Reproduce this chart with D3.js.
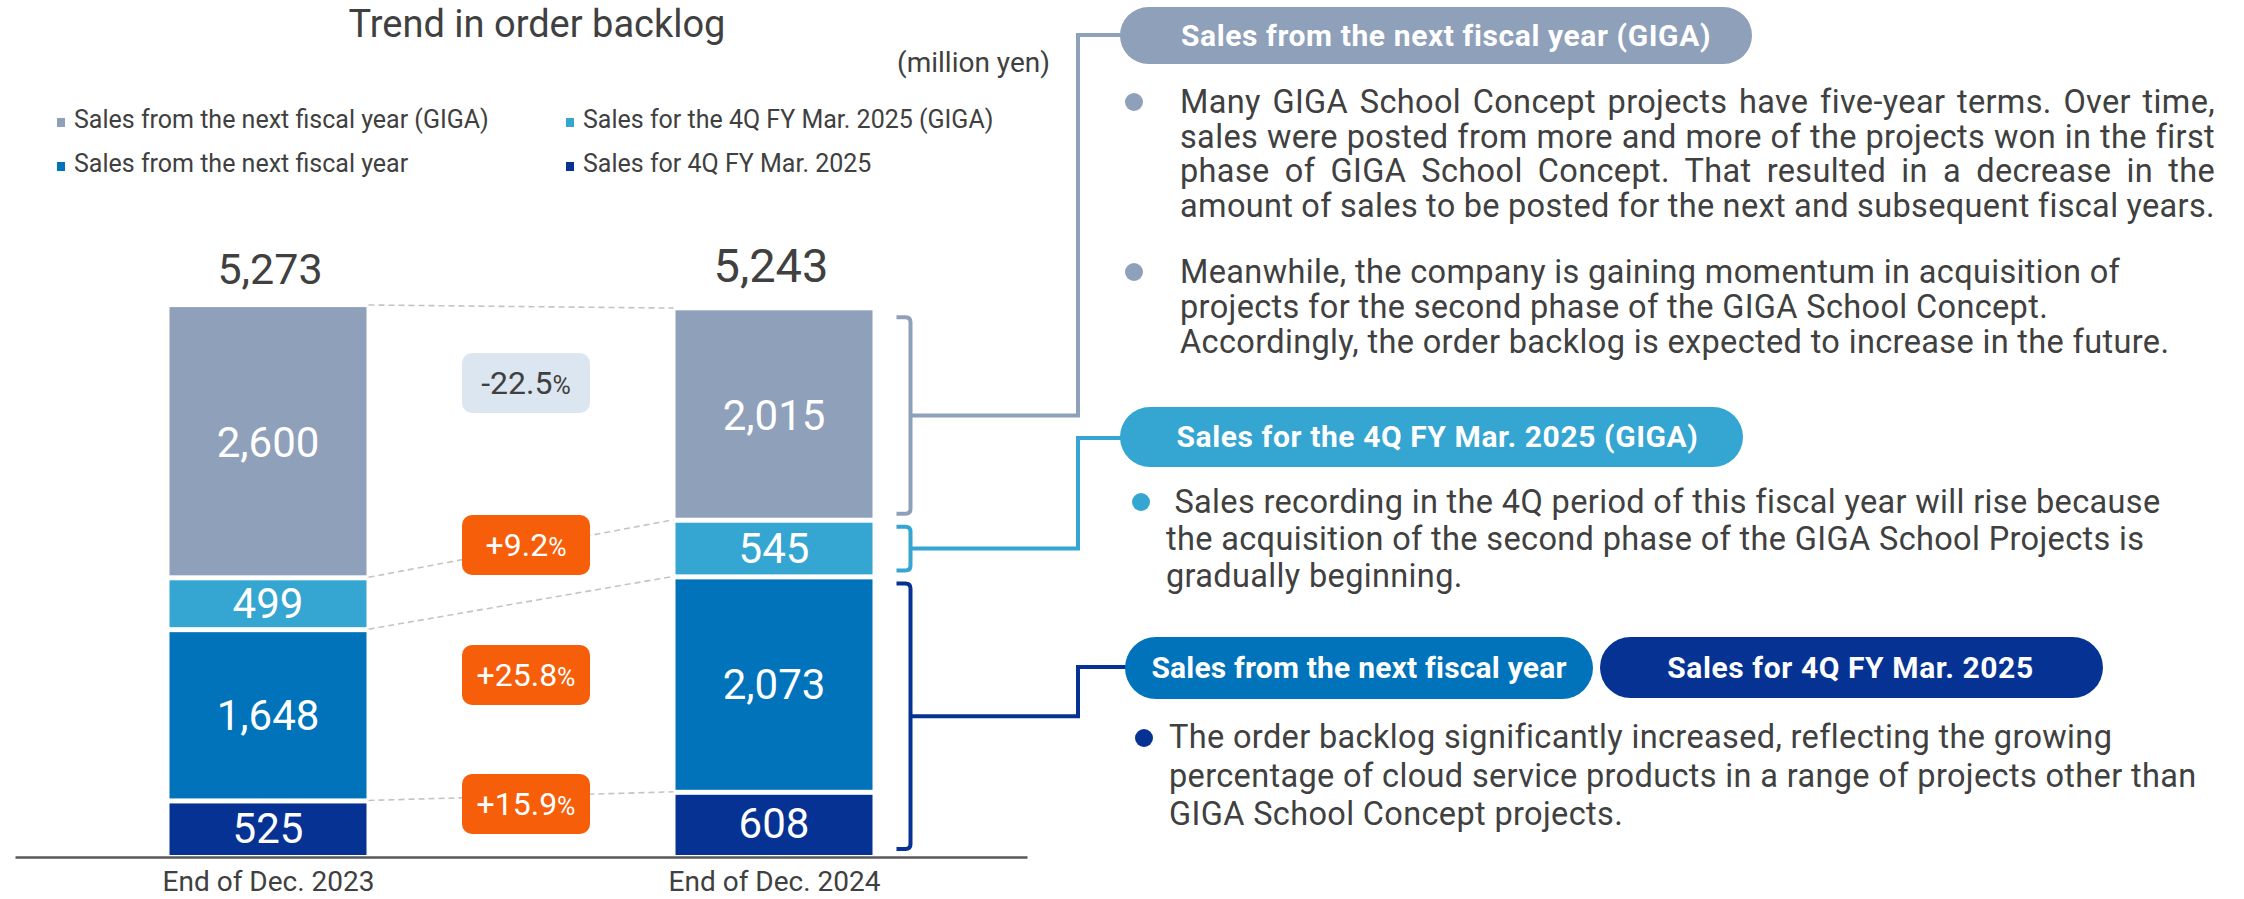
<!DOCTYPE html>
<html>
<head>
<meta charset="utf-8">
<script src="https://cdn.jsdelivr.net/npm/d3@7"></script>
<style>
  body { margin: 0; background: #fff; }
  svg { display: block; font-family: Roboto, "Noto Sans", sans-serif; }
</style>
</head>
<body>
<svg id="chart"></svg>
<script>
// data
var categories = ['End of Dec. 2023', 'End of Dec. 2024'];
var salesFor4Q = [525, 608];
var salesNextFY = [1648, 2073];
var salesFor4QGiga = [499, 545];
var salesNextFYGiga = [2600, 2015];
var totals = [5273, 5243];
var changes = ['-22.5', '+9.2', '+25.8', '+15.9'];

var seriesKeys = ['for4Q', 'nextFY', 'for4QGiga', 'nextFYGiga'];
var seriesNames = {
    nextFYGiga: 'Sales from the next fiscal year (GIGA)',
    for4QGiga: 'Sales for the 4Q FY Mar. 2025 (GIGA)',
    nextFY: 'Sales from the next fiscal year',
    for4Q: 'Sales for 4Q FY Mar. 2025'
};
var colors = {
    nextFYGiga: '#8fa0ba',
    for4QGiga: '#35a5d2',
    nextFY: '#0073bb',
    for4Q: '#063393'
};
var textColor = '#404040';

var sWidth = 2244;
var sHeight = 899;

var svg = d3.select('#chart')
    .attr('width', sWidth)
    .attr('height', sHeight);

var rows = categories.map(function(c, i) {
    return {
        cat: c,
        for4Q: salesFor4Q[i],
        nextFY: salesNextFY[i],
        for4QGiga: salesFor4QGiga[i],
        nextFYGiga: salesNextFYGiga[i],
        total: totals[i]
    };
});

var stacked = d3.stack().keys(seriesKeys)(rows);

var xScale = d3.scalePoint()
    .domain(categories)
    .range([15, 1027])
    .padding(0.5);
var barW = 197;

var yScale = d3.scaleLinear()
    .domain([0, d3.max(totals)])
    .range([855, 307]);

// title
svg.append('text')
    .attr('x', 537).attr('y', 37)
    .attr('text-anchor', 'middle')
    .style('font-size', '38px')
    .attr('fill', textColor)
    .text('Trend in order backlog');

svg.append('text')
    .attr('x', 1050).attr('y', 72)
    .attr('text-anchor', 'end')
    .style('font-size', '28px')
    .attr('fill', textColor)
    .text('(million yen)');

// legend
var legendOrder = ['nextFYGiga', 'for4QGiga', 'nextFY', 'for4Q'];
var legend = svg.append('g').selectAll('g')
    .data(legendOrder)
    .enter()
    .append('g')
    .attr('transform', function(d, i) {
        return 'translate(' + (i % 2 === 0 ? 57 : 566) + ',' + (i < 2 ? 128 : 172) + ')';
    });
legend.append('rect')
    .attr('x', 0).attr('y', -10)
    .attr('width', 8).attr('height', 9)
    .attr('fill', d => colors[d]);
legend.append('text')
    .attr('x', 17)
    .style('font-size', '25px')
    .attr('fill', textColor)
    .text(d => seriesNames[d]);

// dashed connector lines between the bars
var bounds = [0, 1, 2, 3].map(function(k) {
    return stacked[k].map(d => d[1]);
});
bounds[3] = totals.slice();
svg.append('g').selectAll('line')
    .data(bounds)
    .enter()
    .append('line')
    .attr('x1', xScale(categories[0]) + barW / 2 + 2)
    .attr('x2', xScale(categories[1]) - barW / 2 - 2)
    .attr('y1', (d, i) => yScale(d[0]) - (i === 3 ? 2 : 0))
    .attr('y2', (d, i) => yScale(d[1]) - (i === 3 ? 2 : 0))
    .attr('stroke', '#c4c4c4')
    .attr('stroke-width', 1.6)
    .attr('stroke-dasharray', '6,4');

// bars
var layers = svg.append('g').selectAll('g')
    .data(stacked)
    .enter()
    .append('g')
    .attr('fill', d => colors[d.key]);

layers.selectAll('rect')
    .data(function(d) { return d.map(function(p) { p.key = d.key; p.idx = d.index; return p; }); })
    .enter()
    .append('rect')
    .attr('x', d => xScale(d.data.cat) - barW / 2)
    .attr('width', barW)
    .attr('y', d => yScale(d[1]) + (d.idx === seriesKeys.length - 1 ? 0 : 3))
    .attr('height', function(d) {
        var top = yScale(d[1]) + (d.idx === seriesKeys.length - 1 ? 0 : 3);
        var bot = yScale(d[0]) - (d.idx === 0 ? 0 : 2);
        return bot - top;
    });

layers.selectAll('text')
    .data(d => d)
    .enter()
    .append('text')
    .attr('x', d => xScale(d.data.cat))
    .attr('y', d => (yScale(d[0]) + yScale(d[1])) / 2 + 15)
    .attr('text-anchor', 'middle')
    .style('font-size', '42px')
    .attr('fill', '#fff')
    .text(d => d3.format(',')(d[1] - d[0]));

// totals
svg.append('g').selectAll('text')
    .data(rows)
    .enter()
    .append('text')
    .attr('x', (d, i) => xScale(d.cat) + (i === 0 ? 2 : -3))
    .attr('y', (d, i) => yScale(d.total) - (i === 0 ? 23 : 28))
    .attr('text-anchor', 'middle')
    .style('font-size', (d, i) => i === 0 ? '43px' : '47px')
    .attr('fill', textColor)
    .text(d => d3.format(',')(d.total));

// axis
var bottomAxis = d3.axisBottom(xScale).tickSize(0).tickSizeOuter(0).tickPadding(14);
var xAxis = svg.append('g')
    .attr('transform', 'translate(0,' + 857 + ')')
    .call(bottomAxis);
xAxis.select('.domain').attr('stroke', '#595959').attr('stroke-width', 2.5);
xAxis.selectAll('text')
    .style('font-size', '28px')
    .style('font-family', 'Roboto')
    .attr('fill', textColor);

// change badges
var badgeCY = [383, 545, 675, 804];
var badges = svg.append('g').selectAll('g')
    .data(changes)
    .enter()
    .append('g')
    .attr('transform', (d, i) => 'translate(526,' + badgeCY[i] + ')');
badges.append('rect')
    .attr('x', -64).attr('y', -30)
    .attr('width', 128).attr('height', 60)
    .attr('rx', 10)
    .attr('fill', d => d[0] === '-' ? '#dce6f1' : '#f65e0a');
var badgeText = badges.append('text')
    .attr('y', 11)
    .attr('text-anchor', 'middle')
    .attr('fill', d => d[0] === '-' ? textColor : '#fff');
badgeText.append('tspan').style('font-size', '32px').text(d => d);
badgeText.append('tspan').style('font-size', '25px').text('%');

// brackets and connectors
var bx = xScale(categories[1]) + barW / 2;
var s2 = function(k) { return stacked[seriesKeys.indexOf(k)][1]; };
var groups = [
    { key: 'nextFYGiga', lo: s2('nextFYGiga')[0], hi: s2('nextFYGiga')[1], pillY: 35 },
    { key: 'for4QGiga', lo: s2('for4QGiga')[0], hi: s2('for4QGiga')[1], pillY: 438 },
    { key: 'for4Q', lo: s2('for4Q')[0], hi: s2('nextFY')[1], pillY: 667 }
];
var conn = svg.append('g').attr('fill', 'none').attr('stroke-width', 4);
groups.forEach(function(g) {
    var t = yScale(g.hi) + 7;
    var b = yScale(g.lo) - 6;
    var bxr = bx + 38;
    conn.append('path')
        .attr('stroke', colors[g.key])
        .attr('d', 'M' + (bx + 24) + ',' + t + 'H' + (bxr - 5) + 'Q' + bxr + ',' + t + ' ' + bxr + ',' + (t + 5) +
            'V' + (b - 5) + 'Q' + bxr + ',' + b + ' ' + (bxr - 5) + ',' + b + 'H' + (bx + 24));
    var mid = (t + b) / 2;
    conn.append('path')
        .attr('stroke', colors[g.key])
        .attr('d', 'M' + bxr + ',' + mid + 'H1078V' + g.pillY + 'H1130');
});

// pills
var pills = [
    { text: 'Sales from the next fiscal year (GIGA)', key: 'nextFYGiga', x: 1120, y: 7, w: 632, h: 57, dx: 10 },
    { text: 'Sales for the 4Q FY Mar. 2025 (GIGA)', key: 'for4QGiga', x: 1120, y: 407, w: 623, h: 60, dx: 6 },
    { text: 'Sales from the next fiscal year', key: 'nextFY', x: 1125, y: 637, w: 468, h: 62, dx: 0 },
    { text: 'Sales for 4Q FY Mar. 2025', key: 'for4Q', x: 1600, y: 637, w: 503, h: 61, dx: -1 }
];
var pill = svg.append('g').selectAll('g')
    .data(pills)
    .enter()
    .append('g');
pill.append('rect')
    .attr('x', d => d.x).attr('y', d => d.y)
    .attr('width', d => d.w).attr('height', d => d.h)
    .attr('rx', d => d.h / 2)
    .attr('fill', d => colors[d.key]);
pill.append('text')
    .attr('x', d => d.x + d.w / 2 + d.dx)
    .attr('y', d => d.y + d.h / 2 + 10)
    .attr('text-anchor', 'middle')
    .style('font-size', '30px')
    .style('font-weight', 700)
    .style('letter-spacing', (d, i) => i === 2 ? '0.2px' : '0.6px')
    .attr('fill', '#fff')
    .text(d => d.text);

// notes
var notes = [
    { key: 'nextFYGiga', bx: 1134, by: 102, x: 1180, y: 113, lh: 34.7, justify: 2215,
      lines: ['Many GIGA School Concept projects have five-year terms. Over time,',
              'sales were posted from more and more of the projects won in the first',
              'phase of GIGA School Concept. That resulted in a decrease in the',
              'amount of sales to be posted for the next and subsequent fiscal years.'] },
    { key: 'nextFYGiga', bx: 1134, by: 272, x: 1180, y: 283, lh: 35,
      lines: ['Meanwhile, the company is gaining momentum in acquisition of',
              'projects for the second phase of the GIGA School Concept.',
              'Accordingly, the order backlog is expected to increase in the future.'] },
    { key: 'for4QGiga', bx: 1141, by: 502, x: 1166, y: 513, lh: 37,
      lines: ['\u00a0Sales recording in the 4Q period of this fiscal year will rise because',
              'the acquisition of the second phase of the GIGA School Projects is',
              'gradually beginning.'] },
    { key: 'for4Q', bx: 1144, by: 738, x: 1169, y: 748, lh: 38.5,
      lines: ['The order backlog significantly increased, reflecting the growing',
              'percentage of cloud service products in a range of projects other than',
              'GIGA School Concept projects.'] }
];
notes.forEach(function(n) {
    svg.append('circle')
        .attr('cx', n.bx).attr('cy', n.by).attr('r', 9)
        .attr('fill', colors[n.key]);
    n.lines.forEach(function(line, i) {
        var t = svg.append('text')
            .attr('x', n.x)
            .attr('y', n.y + i * n.lh)
            .style('font-size', '32.5px')
            .style('letter-spacing', '0.35px')
            .attr('fill', textColor)
            .text(line);
        if (n.justify) {
            var w = t.node().getComputedTextLength();
            var spaces = line.split(' ').length - 1;
            t.style('word-spacing', ((n.justify - n.x - w) / spaces) + 'px');
        }
    });
});
</script>
</body>
</html>
